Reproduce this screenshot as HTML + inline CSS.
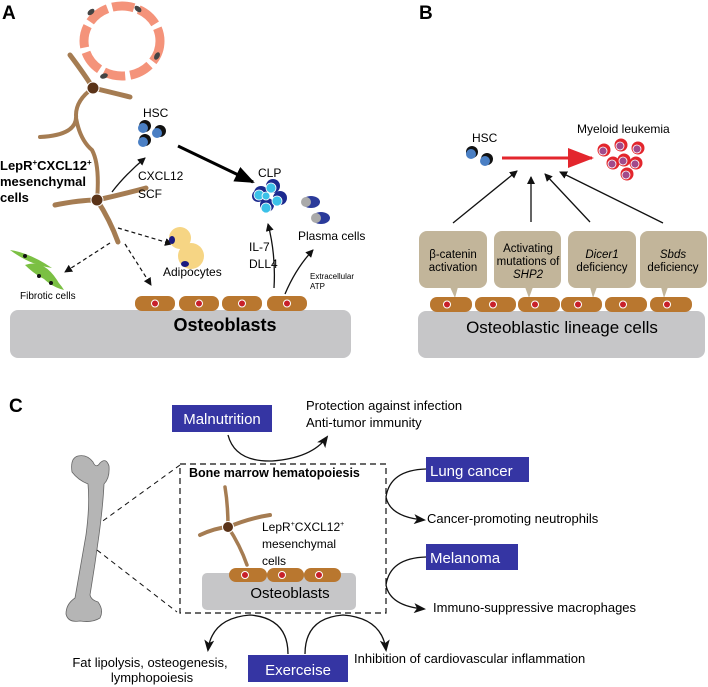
<!DOCTYPE html>
<html><head><meta charset="utf-8"><style>
html,body{margin:0;padding:0;background:#fff;overflow:hidden}
svg{display:block}
text{font-family:"Liberation Sans",Arial,sans-serif}
</style></head><body>
<svg width="708" height="687" viewBox="0 0 708 687" xmlns="http://www.w3.org/2000/svg">
<defs>
<marker id="ah" markerWidth="8" markerHeight="8" refX="7" refY="4" orient="auto" markerUnits="userSpaceOnUse"><path d="M0,0 L8,4 L0,8 Z" fill="#111"/></marker>
<marker id="ahb" markerWidth="20" markerHeight="16" refX="18" refY="8" orient="auto" markerUnits="userSpaceOnUse"><path d="M0,0 L20,8 L0,16 Z" fill="#000"/></marker>
<marker id="ahr" markerWidth="26" markerHeight="20" refX="24" refY="10" orient="auto" markerUnits="userSpaceOnUse"><path d="M0,0 L26,10 L0,20 Z" fill="#e3262d"/></marker>
<marker id="ahc" markerWidth="12" markerHeight="10" refX="10" refY="5" orient="auto" markerUnits="userSpaceOnUse"><path d="M0,0 L12,5 L0,10 L3,5 Z" fill="#111"/></marker>
</defs>

<!-- Panel A -->
<text x="2" y="19" font-size="19" font-weight="bold">A</text>
<ellipse cx="122" cy="41" rx="38" ry="35" fill="none" stroke="#f4937a" stroke-width="9" stroke-dasharray="22 5"/>
<ellipse cx="91" cy="12" rx="4" ry="2.5" fill="#444" transform="rotate(-40 91 12)"/>
<ellipse cx="138" cy="9" rx="4" ry="2.5" fill="#444" transform="rotate(40 138 9)"/>
<ellipse cx="157" cy="56" rx="4" ry="2.5" fill="#444" transform="rotate(-60 157 56)"/>
<ellipse cx="104" cy="76" rx="4" ry="2.5" fill="#444" transform="rotate(-20 104 76)"/>

<g fill="none" stroke="#a57c52" stroke-linecap="round">
<path d="M70,55 Q85,75 93,88 Q110,92 130,97" stroke-width="5"/>
<path d="M93,88 Q76,100 76,115 Q78,135 40,137" stroke-width="4"/>
<path d="M76,118 Q80,140 92,150 Q100,165 97,200" stroke-width="4"/>
<path d="M55,205 Q80,200 97,200 Q120,195 146,188" stroke-width="5"/>
<path d="M97,200 Q110,220 118,242" stroke-width="5"/>
</g>
<circle cx="93" cy="88" r="6" fill="#5a3318" stroke="#fff" stroke-width="1"/>
<circle cx="97" cy="200" r="6" fill="#5a3318" stroke="#fff" stroke-width="1"/>
<text x="0" y="170" font-size="13" font-weight="bold">LepR<tspan font-size="8" dy="-5">+</tspan><tspan dy="5">CXCL12</tspan><tspan font-size="8" dy="-5">+</tspan></text>
<text x="0" y="186" font-size="13" font-weight="bold">mesenchymal</text>
<text x="0" y="202" font-size="13" font-weight="bold">cells</text>

<text x="143" y="117" font-size="12">HSC</text>
<g>
<circle cx="145" cy="126" r="6" fill="#111"/><circle cx="143" cy="128" r="5" fill="#4a7fc4"/>
<circle cx="160" cy="131" r="6" fill="#111"/><circle cx="157" cy="133" r="5" fill="#4a7fc4"/>
<circle cx="145" cy="140" r="6" fill="#111"/><circle cx="143" cy="142" r="5" fill="#4a7fc4"/>
</g>
<path d="M112,192 Q125,175 145,158" fill="none" stroke="#111" stroke-width="1.3" marker-end="url(#ah)"/>
<text x="138" y="180" font-size="12">CXCL12</text>
<text x="138" y="198" font-size="12">SCF</text>
<line x1="178" y1="146" x2="253" y2="182" stroke="#000" stroke-width="3" marker-end="url(#ahb)"/>
<text x="258" y="177" font-size="12">CLP</text>
<g fill="#1b2a8f">
<circle cx="273" cy="186" r="7"/><circle cx="261" cy="193" r="7"/><circle cx="280" cy="198" r="7"/><circle cx="267" cy="205" r="7"/><circle cx="258" cy="196" r="6"/>
</g>
<g fill="#3bc1e8" stroke="#fff" stroke-width="0.8">
<circle cx="271" cy="188" r="5"/><circle cx="259" cy="195" r="5"/><circle cx="277" cy="201" r="5"/><circle cx="266" cy="208" r="5"/><circle cx="266" cy="196" r="4"/>
</g>
<g>
<ellipse cx="311" cy="202" rx="9" ry="6" fill="#2a3a9a"/><circle cx="306" cy="202" r="5" fill="#aaa"/>
<ellipse cx="321" cy="218" rx="9" ry="6" fill="#2a3a9a"/><circle cx="316" cy="218" r="5" fill="#aaa"/>
</g>
<text x="298" y="240" font-size="12">Plasma cells</text>
<text x="249" y="251" font-size="12">IL-7</text>
<text x="249" y="268" font-size="12">DLL4</text>
<path d="M274,288 Q276,255 268,224" fill="none" stroke="#111" stroke-width="1.3" marker-end="url(#ah)"/>
<path d="M285,294 Q296,268 313,250" fill="none" stroke="#111" stroke-width="1.3" marker-end="url(#ah)"/>
<text x="310" y="279" font-size="8">Extracellular</text>
<text x="310" y="289" font-size="8">ATP</text>

<g fill="none" stroke="#111" stroke-width="1.2" stroke-dasharray="4 3">
<line x1="118" y1="228" x2="172" y2="244" marker-end="url(#ah)"/>
<line x1="110" y1="243" x2="65" y2="272" marker-end="url(#ah)"/>
<line x1="125" y1="244" x2="151" y2="285" marker-end="url(#ah)"/>
</g>
<circle cx="180" cy="238" r="11" fill="#f6d584"/>
<circle cx="191" cy="256" r="13" fill="#f6d584"/>
<ellipse cx="172" cy="240" rx="3" ry="4" fill="#1a1a80"/>
<ellipse cx="185" cy="264" rx="4" ry="3" fill="#1a1a80"/>
<text x="163" y="276" font-size="12">Adipocytes</text>
<g fill="#7bc043">
<path d="M10,250 Q30,253 52,268 Q30,265 10,250 Z"/>
<path d="M25,265 Q45,258 60,285 Q40,280 25,265 Z"/>
<path d="M38,272 Q55,275 64,290 Q48,286 38,272 Z"/>
</g>
<circle cx="25" cy="256" r="2" fill="#111"/><circle cx="39" cy="276" r="2" fill="#111"/><circle cx="51" cy="283" r="2" fill="#111"/>
<text x="20" y="299" font-size="10">Fibrotic cells</text>

<rect x="10" y="310" width="341" height="48" rx="8" fill="#c6c6c8"/>
<g fill="#b9772f">
<rect x="135" y="296" width="40" height="15" rx="7"/><rect x="179" y="296" width="40" height="15" rx="7"/><rect x="222" y="296" width="40" height="15" rx="7"/><rect x="267" y="296" width="40" height="15" rx="7"/>
</g>
<g fill="#c8202a" stroke="#fff" stroke-width="1">
<circle cx="155" cy="303.5" r="3.5"/><circle cx="199" cy="303.5" r="3.5"/><circle cx="242" cy="303.5" r="3.5"/><circle cx="287" cy="303.5" r="3.5"/>
</g>
<text x="225" y="331" font-size="18" font-weight="bold" text-anchor="middle">Osteoblasts</text>

<!-- Panel B -->
<text x="419" y="19" font-size="19" font-weight="bold">B</text>
<text x="472" y="142" font-size="12">HSC</text>
<circle cx="472" cy="152" r="6" fill="#111"/><circle cx="471" cy="154" r="5" fill="#4a7fc4"/>
<circle cx="487" cy="159" r="6" fill="#111"/><circle cx="485" cy="161" r="5" fill="#4a7fc4"/>
<line x1="502" y1="158" x2="592" y2="158" stroke="#e3262d" stroke-width="3" marker-end="url(#ahr)"/>
<text x="577" y="133" font-size="12">Myeloid leukemia</text>
<g>
<circle cx="604" cy="150" r="6.5" fill="#e3262d"/><circle cx="621" cy="145" r="6.5" fill="#e3262d"/><circle cx="638" cy="148" r="6.5" fill="#e3262d"/>
<circle cx="613" cy="163" r="6.5" fill="#e3262d"/><circle cx="624" cy="160" r="6.5" fill="#e3262d"/><circle cx="636" cy="163" r="6.5" fill="#e3262d"/><circle cx="627" cy="174" r="6.5" fill="#e3262d"/>
</g>
<g fill="#a24a8a" stroke="#fff" stroke-width="0.8">
<circle cx="603" cy="151" r="4"/><circle cx="620" cy="146" r="4"/><circle cx="637" cy="149" r="4"/>
<circle cx="612" cy="164" r="4"/><circle cx="623" cy="161" r="4"/><circle cx="635" cy="164" r="4"/><circle cx="626" cy="175" r="4"/>
</g>
<g stroke="#111" stroke-width="1.3" marker-end="url(#ah)">
<line x1="453" y1="223" x2="517" y2="171"/>
<line x1="531" y1="222" x2="531" y2="177"/>
<line x1="590" y1="222" x2="545" y2="174"/>
<line x1="663" y1="223" x2="560" y2="172"/>
</g>
<g fill="#c2b59a">
<rect x="419" y="231" width="68" height="57" rx="8"/><path d="M450,287 L455,298 L458,287 Z"/>
<rect x="494" y="231" width="67" height="57" rx="8"/><path d="M525,287 L529,298 L533,287 Z"/>
<rect x="568" y="231" width="68" height="57" rx="8"/><path d="M590,287 L593,298 L597,287 Z"/>
<rect x="640" y="231" width="67" height="57" rx="8"/><path d="M661,287 L664,298 L668,287 Z"/>
</g>
<g font-size="11.5" text-anchor="middle">
<text x="453" y="258">β-catenin</text><text x="453" y="271">activation</text>
<text x="528" y="252">Activating</text><text x="528" y="265">mutations of</text><text x="528" y="278" font-style="italic">SHP2</text>
<text x="602" y="258" font-style="italic">Dicer1</text><text x="602" y="271">deficiency</text>
<text x="673" y="258" font-style="italic">Sbds</text><text x="673" y="271">deficiency</text>
</g>
<rect x="418" y="311" width="287" height="47" rx="8" fill="#c6c6c8"/>
<g fill="#b9772f">
<rect x="430" y="297" width="42" height="15" rx="7"/><rect x="475" y="297" width="41" height="15" rx="7"/><rect x="518" y="297" width="42" height="15" rx="7"/><rect x="561" y="297" width="41" height="15" rx="7"/><rect x="605" y="297" width="42" height="15" rx="7"/><rect x="650" y="297" width="42" height="15" rx="7"/>
</g>
<g fill="#c8202a" stroke="#fff" stroke-width="1">
<circle cx="447" cy="304.5" r="3.5"/><circle cx="493" cy="304.5" r="3.5"/><circle cx="535" cy="304.5" r="3.5"/><circle cx="578" cy="304.5" r="3.5"/><circle cx="623" cy="304.5" r="3.5"/><circle cx="667" cy="304.5" r="3.5"/>
</g>
<text x="562" y="333" font-size="17" text-anchor="middle">Osteoblastic lineage cells</text>

<!-- Panel C -->
<text x="9" y="412" font-size="19" font-weight="bold">C</text>
<rect x="172" y="405" width="100" height="27" fill="#3535a3"/>
<text x="222" y="424" font-size="15" fill="#fff" text-anchor="middle">Malnutrition</text>
<text x="306" y="410" font-size="13">Protection against infection</text>
<text x="306" y="427" font-size="13">Anti-tumor immunity</text>
<path d="M228,435 Q235,462 272,461 Q312,458 327,437" fill="none" stroke="#111" stroke-width="1.3" marker-end="url(#ahc)"/>

<rect x="426" y="457" width="103" height="25" fill="#3535a3"/>
<text x="430" y="476" font-size="15" fill="#fff">Lung cancer</text>
<path d="M426,469 Q390,470 386,497 Q390,517 424,520" fill="none" stroke="#111" stroke-width="1.3" marker-end="url(#ahc)"/>
<text x="427" y="523" font-size="13">Cancer-promoting neutrophils</text>

<rect x="426" y="544" width="92" height="26" fill="#3535a3"/>
<text x="430" y="563" font-size="15" fill="#fff">Melanoma</text>
<path d="M426,557 Q390,558 386,585 Q390,606 424,609" fill="none" stroke="#111" stroke-width="1.3" marker-end="url(#ahc)"/>
<text x="433" y="612" font-size="13">Immuno-suppressive macrophages</text>

<!-- bone -->
<path d="M78,456 Q70,458 72,472 Q78,480 88,484 Q90,505 86,535 Q80,570 75,598 Q66,604 66,614 Q68,623 80,621 Q92,623 100,618 Q104,610 98,602 Q91,600 90,595 Q95,565 99,535 Q103,505 104,484 Q110,478 109,466 Q106,457 100,463 Q96,469 93,462 Q87,454 78,456 Z" fill="#b5b5b5" stroke="#666" stroke-width="0.8"/>

<line x1="180" y1="465" x2="100" y2="523" stroke="#111" stroke-width="1" stroke-dasharray="5 4"/>
<line x1="97" y1="550" x2="177" y2="612" stroke="#111" stroke-width="1" stroke-dasharray="5 4"/>
<rect x="180" y="464" width="206" height="149" fill="none" stroke="#111" stroke-width="1.2" stroke-dasharray="6 4"/>
<text x="189" y="477" font-size="12.5" font-weight="bold">Bone marrow hematopoiesis</text>

<g fill="none" stroke="#a57c52" stroke-linecap="round">
<path d="M200,535 Q215,528 228,527 Q250,518 270,515" stroke-width="4"/>
<path d="M228,527 Q228,505 225,487" stroke-width="3.5"/>
<path d="M228,527 Q240,545 247,565" stroke-width="3.5"/>
</g>
<circle cx="228" cy="527" r="5.5" fill="#5a3318" stroke="#fff" stroke-width="1"/>
<text x="262" y="531" font-size="12">LepR<tspan font-size="7" dy="-5">+</tspan><tspan dy="5">CXCL12</tspan><tspan font-size="7" dy="-5">+</tspan></text>
<text x="262" y="548" font-size="12">mesenchymal</text>
<text x="262" y="565" font-size="12">cells</text>
<rect x="202" y="573" width="154" height="37" rx="5" fill="#c6c6c8"/>
<g fill="#b9772f">
<rect x="229" y="568" width="38" height="14" rx="7"/><rect x="267" y="568" width="37" height="14" rx="7"/><rect x="304" y="568" width="37" height="14" rx="7"/>
</g>
<g fill="#c8202a" stroke="#fff" stroke-width="1">
<circle cx="245" cy="575" r="3.5"/><circle cx="282" cy="575" r="3.5"/><circle cx="319" cy="575" r="3.5"/>
</g>
<text x="290" y="598" font-size="15" text-anchor="middle">Osteoblasts</text>

<rect x="248" y="655" width="100" height="27" fill="#3535a3"/>
<text x="298" y="675" font-size="15" fill="#fff" text-anchor="middle">Exerceise</text>
<path d="M288,654 Q288,618 250,615 Q212,618 208,650" fill="none" stroke="#111" stroke-width="1.3" marker-end="url(#ahc)"/>
<path d="M305,654 Q305,618 343,615 Q382,618 386,650" fill="none" stroke="#111" stroke-width="1.3" marker-end="url(#ahc)"/>
<text x="150" y="667" font-size="13" text-anchor="middle">Fat lipolysis, osteogenesis,</text>
<text x="152" y="682" font-size="13" text-anchor="middle">lymphopoiesis</text>
<text x="354" y="663" font-size="13">Inhibition of cardiovascular inflammation</text>
</svg>
</body></html>
